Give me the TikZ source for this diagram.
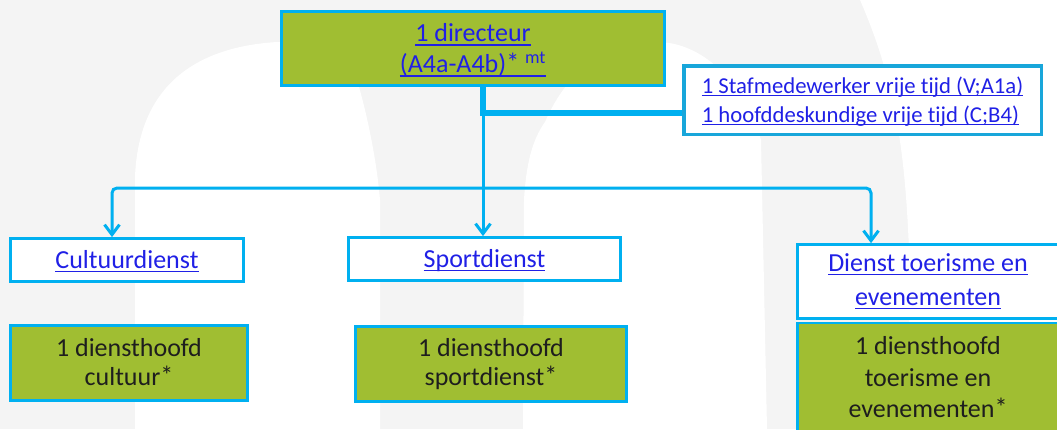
\documentclass[tikz,border=0pt]{standalone}
\usepackage{fontspec}
\setmainfont{Carlito}[Ligatures=NoCommon]
\usetikzlibrary{arrows.meta,calc}
\definecolor{cy}{HTML}{00B0F0}
\definecolor{cyd}{HTML}{18A6DA}
\definecolor{gr}{HTML}{A0BE32}
\definecolor{lk}{RGB}{32,32,230}
\definecolor{bgg}{HTML}{F4F4F4}
\definecolor{tx}{HTML}{1E1E1E}
\newcommand\lnk[1]{{\setbox0\hbox{#1}\rlap{\rule[-0.14em]{\wd0}{0.06em}}\box0}}
\newcommand\tp[1]{\rule{0pt}{#1em}}
\newcommand\bt[1]{\rule[-#1em]{0pt}{0pt}}
\newcommand\myast{\raisebox{0.05em}{*}}
\begin{document}
\begin{tikzpicture}[x=1pt,y=-1pt,
  wbox/.style={draw=cy, line width=2.7pt, fill=white, inner sep=0pt, text=lk, align=center, font=\fontsize{26}{30}\selectfont},
  gbox/.style={draw=cy, line width=2.7pt, fill=gr, inner sep=0pt, text=tx, align=center, font=\fontsize{26}{29}\selectfont},
  conn/.style={draw=cy, line width=3pt},
  tip/.style={-{Straight Barb[length=10pt,width=15pt]}}]
\useasboundingbox (0,0) rectangle (1057,429);
\clip (0,0) rectangle (1057,429);
% background watermark
\fill[bgg] (0,0) rectangle (1057,429);
\fill[white] (135,429) -- (135,177) .. controls (138,100) and (180,48) .. (277,42)
  -- (345,46) .. controls (360,80) and (376,150) .. (380,200) -- (380,429) -- cycle;
\fill[white] (523,429) -- (524,200) .. controls (526,165) and (532,140) .. (545,122)
  .. controls (570,65) and (610,42) .. (660,42) .. controls (705,44) and (745,85) .. (761,140)
  -- (767,429) -- cycle;
\fill[white] (910,429) -- (909,250) .. controls (905,150) and (895,80) .. (860,0)
  -- (1057,0) -- (1057,429) -- cycle;
% nodes
\node[gbox, text=lk, minimum width=383, minimum height=74, font=\fontsize{26}{31}\selectfont] (dir) at (473,48.5)
  {\tp{0.9}\lnk{1 directeur}\\\lnk{(A4a-A4b)\myast\ \textsuperscript{mt}}\bt{0.21}};
\node[draw=cyd, line width=3.5pt, fill=white, inner sep=0pt, minimum width=357.5, minimum height=68.5,
  text=lk, align=left, font=\fontsize{22.7}{29}\selectfont] (staff) at (862.5,100)
  {\tp{0.9}\lnk{1 Stafmedewerker vrije tijd (V;A1a)}\\\lnk{1 hoofddeskundige vrije tijd (C;B4)}\bt{0.22}};
\node[wbox, minimum width=233, minimum height=43] (cult) at (127,260) {\tp{0.9}\lnk{Cultuurdienst}\bt{0.22}};
\node[gbox, minimum width=237, minimum height=75] (cultH) at (129,363) {\tp{0.92}1 diensthoofd\\cultuur\myast\bt{0.29}};
\node[wbox, minimum width=272, minimum height=43] (sport) at (484.5,259) {\tp{0.9}\lnk{Sportdienst}\bt{0.22}};
\node[gbox, minimum width=271, minimum height=75] (sportH) at (491,364) {\tp{0.84}1 diensthoofd\\sportdienst\myast\bt{0.29}};
\node[wbox, minimum width=261, minimum height=74, font=\fontsize{26}{34}\selectfont] (toer) at (928,281.5)
  {\tp{0.84}\lnk{Dienst toerisme en}\\\lnk{evenementen}\bt{0.29}};
\node[gbox, minimum width=261, minimum height=116, font=\fontsize{26}{31.5}\selectfont] (toerH) at (928,381)
  {\tp{0.72}1 diensthoofd\\toerisme en\\evenementen\myast\bt{0.3}};
% connectors
\coordinate (j) at (483,113);
\coordinate (bus) at (483,188);
\draw[cy, line width=5.5pt] (dir.south -| j) -- (j) -- (j -| staff.west);
\draw[conn, tip] (j) -- (sport.north -| j);
\draw[conn, tip, rounded corners=5pt] (bus) -| ($(cult.north)+(-15,0)$);
\draw[conn, tip, rounded corners=5pt] (bus) -| ($(toer.north)+(-57,0)$);
\end{tikzpicture}
\end{document}
